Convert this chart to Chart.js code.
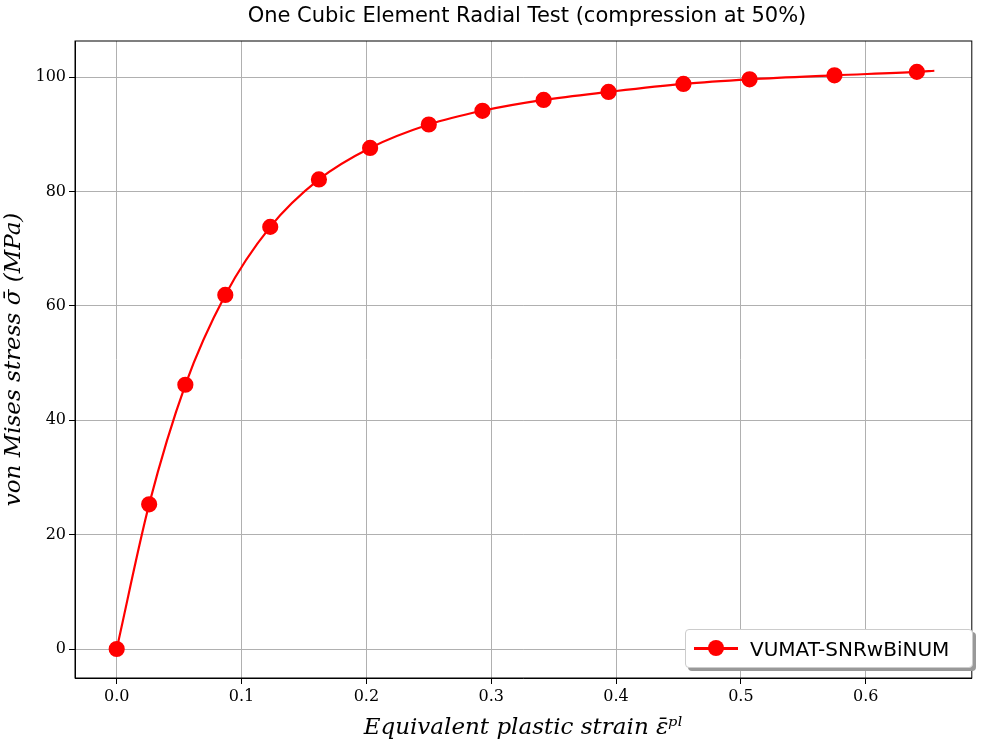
<!DOCTYPE html>
<html><head><meta charset="utf-8">
<script src="https://cdn.jsdelivr.net/npm/chart.js@4"></script>
<style>
body{margin:0;background:#fff;}
#wrap{position:relative;width:981px;height:742px;}
#title{position:absolute;top:3px;left:75px;width:904px;text-align:center;font:21px "DejaVu Sans",sans-serif;color:#000;}
#legend{position:absolute;left:685px;top:629px;width:286px;height:37px;border:1px solid #ccc;border-radius:4px;background:#fff;box-shadow:3px 3px 0 #999;font:20px "DejaVu Sans",sans-serif;display:flex;align-items:center;}
#legend span.mk{position:relative;display:inline-block;width:44px;height:3px;background:#f00;margin:0 12px 0 8px;}
#legend span.mk:after{content:"";position:absolute;left:14px;top:-7px;width:16px;height:16px;border-radius:50%;background:#f00;}
</style></head><body>
<div id="wrap"><canvas id="c" width="981" height="742"></canvas>
<div id="title">One Cubic Element Radial Test (compression at 50%)</div>
<div id="legend"><span class="mk"></span>VUMAT-SNRwBiNUM</div></div>
<script>
const strain = [0, 0.026, 0.055, 0.087, 0.123, 0.162, 0.203, 0.250, 0.293, 0.342, 0.394, 0.454, 0.507, 0.575, 0.641, 0.655];
const stress = [0, 25.3, 46.2, 61.9, 73.8, 82.1, 87.6, 91.7, 94.1, 96.0, 97.4, 98.8, 99.6, 100.3, 100.9, 101.1];
const xTicks = [0, 0.1, 0.2, 0.3, 0.4, 0.5, 0.6];
const yTicks = [0, 20, 40, 60, 80, 100];

const pts = strain.map((x, i) => ({ x: x, y: stress[i] }));
const radii = strain.map((x, i) => i === strain.length - 1 ? 0 : 7);
const serif = '"DejaVu Serif", serif';
new Chart(document.getElementById('c'), {
  type: 'line',
  data: { datasets: [{
    data: pts, borderColor: '#f00', backgroundColor: '#f00', borderWidth: 2.2,
    pointRadius: radii, pointHoverRadius: radii, cubicInterpolationMode: 'monotone'
  }] },
  options: {
    responsive: false, animation: false,
    layout: { padding: { top: 41, right: -7, left: 0, bottom: 0 } },
    plugins: { legend: { display: false }, tooltip: { enabled: false } },
    scales: {
      x: {
        type: 'linear', min: -0.0334, max: 0.685,
        afterBuildTicks: s => { s.ticks = xTicks.map(v => ({ value: v })); },
        afterFit: s => { s.height = 64; },
        ticks: { color: '#000', font: { family: serif, size: 16 }, callback: v => v.toFixed(1) },
        grid: { color: '#b0b0b0', tickColor: '#000', tickLength: 6 },
        border: { color: '#000' },
        title: { display: true, text: 'Equivalent plastic strain ε̄ᵖˡ', color: '#000', font: { family: serif, size: 23, style: 'italic' }, padding: 0 }
      },
      y: {
        type: 'linear', min: -5.07, max: 106.3,
        afterBuildTicks: s => { s.ticks = yTicks.map(v => ({ value: v })); },
        afterFit: s => { s.width = 75; },
        ticks: { color: '#000', font: { family: serif, size: 16 } },
        grid: { color: '#b0b0b0', tickColor: '#000', tickLength: 6 },
        border: { color: '#000' },
        title: { display: true, text: 'von Mises stress σ̄ (MPa)', color: '#000', font: { family: serif, size: 23, style: 'italic' }, padding: 0 }
      }
    }
  },
  plugins: [{ id: 'frame', afterDraw(c) {
    const a = c.chartArea, x = c.ctx; x.save(); x.strokeStyle = '#000'; x.lineWidth = 1;
    x.strokeRect(a.left, a.top, a.right - a.left, a.bottom - a.top); x.restore();
  } }]
});
</script></body></html>
